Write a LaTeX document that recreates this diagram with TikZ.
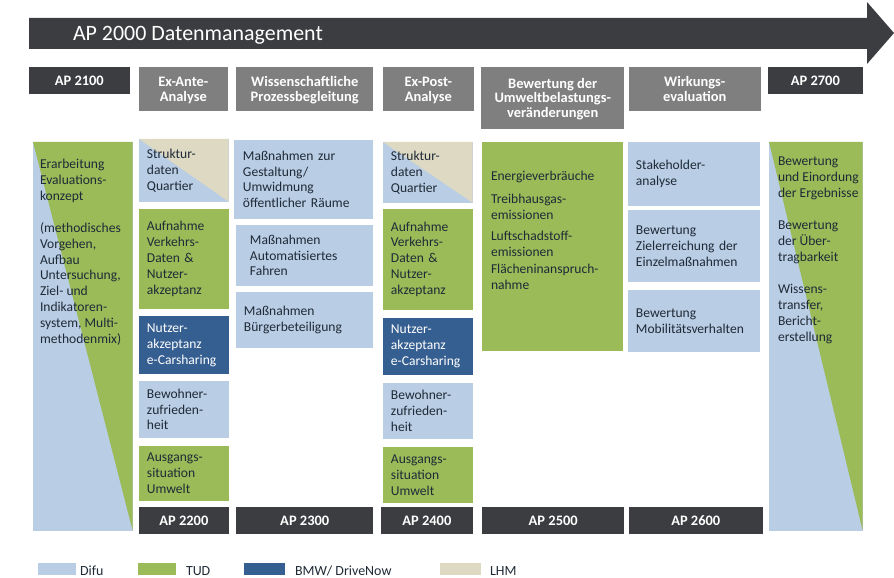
\documentclass[tikz,border=0pt]{standalone}
\usepackage{fontspec}
\setmainfont{Carlito}
\definecolor{difu}{HTML}{B9CDE5}
\definecolor{tud}{HTML}{9BBB59}
\definecolor{bmw}{HTML}{365F91}
\definecolor{lhm}{HTML}{DDD9C3}
\definecolor{apdark}{HTML}{3B3D40}
\definecolor{apgray}{HTML}{7F7F7F}
\definecolor{boxtext}{HTML}{1F2A36}
\begin{document}
\begin{tikzpicture}[x=1bp,y=-1bp]
        \tikzstyle{every node}=[inner sep=0pt, outer sep=0pt, anchor=north west, font=\fontsize{13.6}{16}\selectfont]
        \tikzstyle{hdr}=[fill=apgray, text=white, align=center, text depth=0pt, font=\fontsize{14.5}{15}\selectfont\bfseries]
        \tikzstyle{apbar}=[hdr, fill=apdark, minimum height=27]
        \tikzstyle{cell}=[text=boxtext, align=left, inner xsep=8pt]
        \tikzstyle{exante}=[cell, minimum width=90, text width=74]
        \tikzstyle{wirk}=[cell, minimum width=132, text width=116]
        \tikzstyle{splittud}=[fill=difu, path picture={\fill[tud] (path picture bounding box.north west) -- (path picture bounding box.north east) -- (path picture bounding box.south east) -- cycle;}]
        \tikzstyle{splitlhm}=[fill=difu, path picture={\fill[lhm] (path picture bounding box.north west) -- (path picture bounding box.north east) -- (path picture bounding box.south east) -- cycle;}]
        \tikzstyle{swatch}=[minimum width=38, minimum height=12]
        \tikzstyle{legend}=[anchor=base west, text=boxtext, font=\fontsize{14}{16}\selectfont]
        \useasboundingbox (0,0) rectangle (894,578);

        \fill[apdark] (29,18) -- (867,18) -- (867,2) -- (894,33) -- (867,64) -- (867,49) -- (29,49) -- cycle;
        \node[anchor=base west, text=white, font=\fontsize{22}{24}\selectfont] (title) at (73,41) {AP 2000 Datenmanagement};

        \node[apbar, minimum width=101] (hdr2100) at (29,67) {AP 2100};
        \node[hdr, minimum width=89, minimum height=44] (hdr2200) at (139,67) {Ex-Ante-\\Analyse};
        \node[hdr, minimum width=138, minimum height=44] (hdr2300) at (236,67) {Wissenschaftliche\\Prozessbegleitung};
        \node[hdr, minimum width=91, minimum height=44] (hdr2400) at (383,67) {Ex-Post-\\Analyse};
        \node[hdr, minimum width=144, minimum height=62] (hdr2500) at (481,67) {Bewertung der\\Umweltbelastungs-\\veränderungen};
        \node[hdr, minimum width=132, minimum height=44] (hdr2600) at (629,67) {Wirkungs-\\evaluation};
        \node[apbar, minimum width=95] (hdr2700) at (768,67) {AP 2700};

        \node[splittud, minimum width=100, minimum height=390] (col2100) at (33,142) {};
        \node[text=boxtext, align=left] (txt2100) at (40,159) {Erarbeitung\\Evaluations-\\konzept\\[16pt](methodisches\\Vorgehen,\\Aufbau\\Untersuchung,\\Ziel- und\\Indikatoren-\\system, Multi-\\methodenmix)};

        \node[exante, splitlhm, minimum height=63] (sq2200) at (139,139) {Struktur-\\daten\\Quartier};
        \node[exante, fill=tud, minimum height=100] (vk2200) at (139,209) {Aufnahme\\Verkehrs-\\Daten \&\\Nutzer-\\akzeptanz};
        \node[exante, fill=bmw, text=white, minimum height=58] (ca2200) at (139,316) {Nutzer-\\akzeptanz\\e-Carsharing};
        \node[exante, fill=difu, minimum height=57] (bz2200) at (139,381) {Bewohner-\\zufrieden-\\heit};
        \node[exante, fill=tud, minimum height=55] (um2200) at (139,446) {Ausgangs-\\situation\\Umwelt};
        \node[apbar, minimum width=90] (ap2200) at (139,507) {AP 2200};

        \node[cell, fill=difu, inner xsep=9pt, minimum width=140, text width=122, minimum height=79] (gs2300) at (234,140) {Maßnahmen zur\\Gestaltung/\\Umwidmung\\öffentlicher Räume};
        \node[cell, fill=difu, inner xsep=14pt, minimum width=138, text width=110, minimum height=61] (af2300) at (236,225) {Maßnahmen\\Automatisiertes\\Fahren};
        \node[cell, fill=difu, minimum width=138, text width=122, minimum height=56] (bb2300) at (236,292) {Maßnahmen\\Bürgerbeteiligung};
        \node[apbar, minimum width=138] (ap2300) at (236,507) {AP 2300};

        \node[exante, splitlhm, minimum height=61] (sq2400) at (383,142) {Struktur-\\daten\\Quartier};
        \node[exante, fill=tud, minimum height=101] (vk2400) at (383,209) {Aufnahme\\Verkehrs-\\Daten \&\\Nutzer-\\akzeptanz};
        \node[exante, fill=bmw, text=white, minimum height=57] (ca2400) at (383,318) {Nutzer-\\akzeptanz\\e-Carsharing};
        \node[exante, fill=difu, minimum height=56] (bz2400) at (383,383) {Bewohner-\\zufrieden-\\heit};
        \node[exante, fill=tud, minimum height=56] (um2400) at (383,447) {Ausgangs-\\situation\\Umwelt};
        \node[apbar, minimum width=92] (ap2400) at (381,507) {AP 2400};

        \node[fill=tud, minimum width=142, minimum height=210] (col2500) at (482,142) {};
        \node[text=boxtext, align=left] (txt2500) at (491,171) {Energieverbräuche\\[7pt]Treibhausgas-\\emissionen\\[5pt]Luftschadstoff-\\emissionen\\[1pt]Flächeninanspruch-\\nahme};
        \node[apbar, minimum width=143] (ap2500) at (482,507) {AP 2500};

        \node[wirk, fill=difu, minimum height=64] (sh2600) at (628,142) {Stakeholder-\\analyse};
        \node[wirk, fill=difu, minimum height=72] (ze2600) at (628,210) {Bewertung\\Zielerreichung der\\Einzelmaßnahmen};
        \node[wirk, fill=difu, minimum height=62] (mv2600) at (628,290) {Bewertung\\Mobilitätsverhalten};
        \node[apbar, minimum width=134] (ap2600) at (629,507) {AP 2600};

        \node[splittud, minimum width=94, minimum height=390] (col2700) at (769,142) {};
        \node[text=boxtext, align=left] (txt2700) at (778,157) {Bewertung\\und Einordung\\der Ergebnisse\\[16pt]Bewertung\\der Über-\\tragbarkeit\\[16pt]Wissens-\\transfer,\\Bericht-\\erstellung};

        \node[swatch, fill=difu] (lgdifu) at (38,563) {};
        \node[legend] (lgdifutxt) at (80,575) {Difu};
        \node[swatch, fill=tud] (lgtud) at (138,563) {};
        \node[legend] (lgtudtxt) at (186,575) {TUD};
        \node[swatch, fill=bmw, minimum width=41] (lgbmw) at (244,563) {};
        \node[legend] (lgbmwtxt) at (295,575) {BMW/ DriveNow};
        \node[swatch, fill=lhm, minimum width=41] (lglhm) at (440,563) {};
        \node[legend] (lglhmtxt) at (490,575) {LHM};
    \end{tikzpicture}
\end{document}
